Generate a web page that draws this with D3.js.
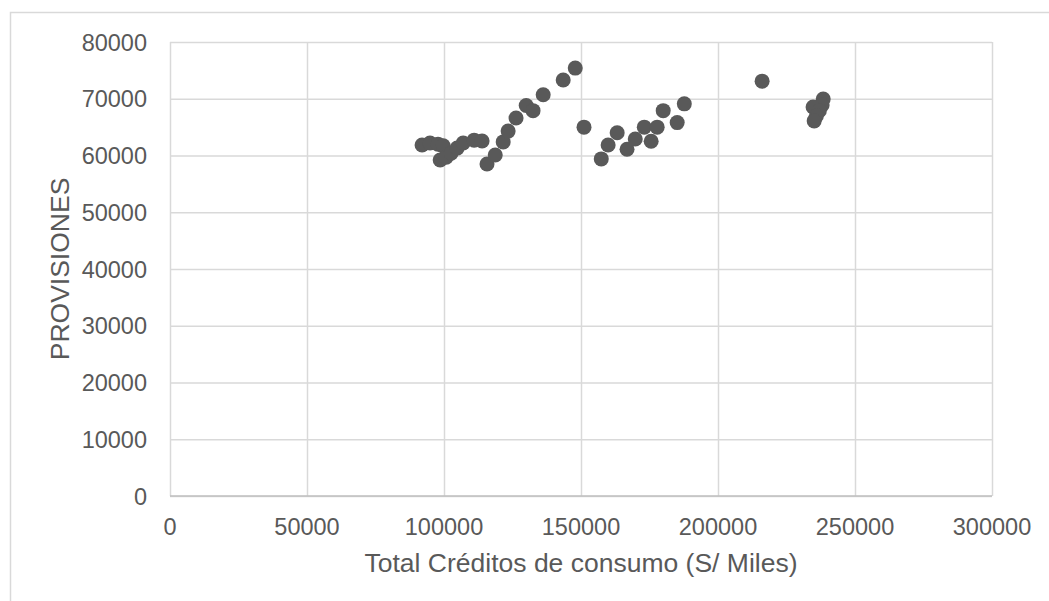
<!DOCTYPE html>
<html>
<head>
<meta charset="utf-8">
<script src="https://cdn.jsdelivr.net/npm/d3@7"></script>
<style>
  body { margin: 0; background: #fff; }
  text { font-family: "Liberation Sans", Arial, sans-serif; fill: #595959; }
</style>
</head>
<body>
<div id="scatter"></div>
<script>
let svgWidth = 1049;
let svgHeight = 601;

// credit totals (S/ miles) and provisions
let creditos = [
  92000, 94900, 97800, 99700, 98600, 100800, 102600, 104800, 107000, 111000,
  113900, 115700, 118700, 121600, 123400, 126300, 130000, 132500, 136200, 143500,
  147900, 151100, 157400, 159900, 163200, 166800, 169800, 173100, 175600, 177800,
  180000, 185100, 187700, 216100, 238400, 238000, 234700, 237000, 235900, 235100
];
let provisiones = [
  61850, 62200, 62000, 61700, 59200, 59700, 60400, 61300, 62200, 62700,
  62550, 58500, 60100, 62400, 64300, 66600, 68800, 67900, 70700, 73300,
  75400, 65000, 59400, 61850, 64000, 61100, 62900, 65000, 62500, 65000,
  67900, 65800, 69100, 73100, 69950, 68900, 68550, 67900, 66950, 66100
];
let xTicks = [0, 50000, 100000, 150000, 200000, 250000, 300000];
let yTicks = [0, 10000, 20000, 30000, 40000, 50000, 60000, 70000, 80000];

let margin = { top: 42, right: 57, bottom: 105, left: 170 };
let width = svgWidth - margin.left - margin.right;
let height = svgHeight - margin.top - margin.bottom;

let svg = d3.select("#scatter")
  .append("svg")
  .attr("width", svgWidth)
  .attr("height", svgHeight);

// outer chart border (runs off the right and bottom edges)
svg.append("rect")
  .attr("x", 10.5)
  .attr("y", 12.5)
  .attr("width", 1100)
  .attr("height", 700)
  .attr("fill", "none")
  .attr("stroke", "#d9d9d9")
  .attr("stroke-width", 1.5);

let chartGroup = svg.append("g")
  .attr("transform", `translate(${margin.left}, ${margin.top})`);

let xScale = d3.scaleLinear().domain([0, 300000]).range([0, width]);
let yScale = d3.scaleLinear().domain([0, 80000]).range([height, 0]);

// gridlines
chartGroup.append("g")
  .attr("transform", `translate(0, ${height})`)
  .call(d3.axisBottom(xScale).tickValues(xTicks).tickSize(-height).tickFormat(""))
  .call(g => g.select(".domain").remove())
  .call(g => g.selectAll("line").attr("stroke", "#d9d9d9").attr("stroke-width", 1.5));

chartGroup.append("g")
  .call(d3.axisLeft(yScale).tickValues(yTicks).tickSize(-width).tickFormat(""))
  .call(g => g.select(".domain").remove())
  .call(g => g.selectAll("line").attr("stroke", "#d9d9d9").attr("stroke-width", 1.5));

// bottom axis line
chartGroup.append("line")
  .attr("x1", 0).attr("x2", width)
  .attr("y1", height).attr("y2", height)
  .attr("stroke", "#bfbfbf")
  .attr("stroke-width", 1.5);

// tick labels
chartGroup.selectAll(".xlab")
  .data(xTicks)
  .enter()
  .append("text")
  .attr("x", d => xScale(d))
  .attr("y", height + 39)
  .attr("text-anchor", "middle")
  .style("font-size", "23.5px")
  .text(d => d);

chartGroup.selectAll(".ylab")
  .data(yTicks)
  .enter()
  .append("text")
  .attr("x", -23)
  .attr("y", d => yScale(d) + 8.5)
  .attr("text-anchor", "end")
  .style("font-size", "23.5px")
  .text(d => d);

// points
chartGroup.selectAll("circle")
  .data(creditos)
  .enter()
  .append("circle")
  .attr("cx", d => xScale(d))
  .attr("cy", (d, i) => yScale(provisiones[i]))
  .attr("r", 7.5)
  .attr("fill", "#595959");

// axis titles
chartGroup.append("text")
  .attr("x", width / 2)
  .attr("y", height + 76)
  .attr("text-anchor", "middle")
  .style("font-size", "26.5px")
  .text("Total Créditos de consumo (S/ Miles)");

chartGroup.append("text")
  .attr("transform", `translate(${69 - margin.left}, ${height / 2}) rotate(-90)`)
  .attr("text-anchor", "middle")
  .style("font-size", "26.5px")
  .text("PROVISIONES");
</script>
</body>
</html>
